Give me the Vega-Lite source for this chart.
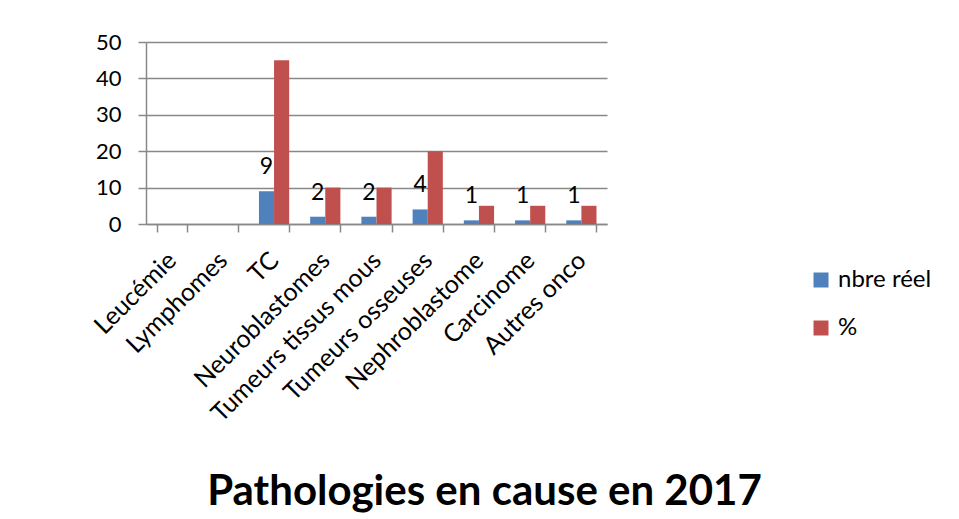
{
  "$schema": "https://vega.github.io/schema/vega-lite/v6.json",
  "width": 461,
  "height": 182,
  "autosize": "none",
  "padding": {"left": 146, "top": 42, "right": 352, "bottom": 295},
  "background": "white",
  "config": {"font": "Lato", "view": {"stroke": null}},
  "title": {"text": "Pathologies en cause en 2017", "orient": "bottom", "anchor": "middle", "fontSize": 42, "fontWeight": "bold", "color": "#000000", "dx": 108, "offset": 46},
  "data": {"values": [
    {"cat": "Leucémie", "serie": "nbre réel", "value": 0},
    {"cat": "Leucémie", "serie": "%", "value": 0},
    {"cat": "Lymphomes", "serie": "nbre réel", "value": 0},
    {"cat": "Lymphomes", "serie": "%", "value": 0},
    {"cat": "TC", "serie": "nbre réel", "value": 9},
    {"cat": "TC", "serie": "%", "value": 45},
    {"cat": "Neuroblastomes", "serie": "nbre réel", "value": 2},
    {"cat": "Neuroblastomes", "serie": "%", "value": 10},
    {"cat": "Tumeurs tissus mous", "serie": "nbre réel", "value": 2},
    {"cat": "Tumeurs tissus mous", "serie": "%", "value": 10},
    {"cat": "Tumeurs osseuses", "serie": "nbre réel", "value": 4},
    {"cat": "Tumeurs osseuses", "serie": "%", "value": 20},
    {"cat": "Nephroblastome", "serie": "nbre réel", "value": 1},
    {"cat": "Nephroblastome", "serie": "%", "value": 5},
    {"cat": "Carcinome", "serie": "nbre réel", "value": 1},
    {"cat": "Carcinome", "serie": "%", "value": 5},
    {"cat": "Autres onco", "serie": "nbre réel", "value": 1},
    {"cat": "Autres onco", "serie": "%", "value": 5}
  ]},
  "encoding": {
    "x": {
      "field": "cat", "type": "nominal",
      "sort": ["Leucémie", "Lymphomes", "TC", "Neuroblastomes", "Tumeurs tissus mous", "Tumeurs osseuses", "Nephroblastome", "Carcinome", "Autres onco"],
      "scale": {"paddingInner": 0.41, "paddingOuter": 0.205},
      "axis": {"title": null, "labelAngle": -45, "labelAlign": "right", "labelBaseline": "middle", "labelFontSize": 25, "labelColor": "#000000", "labelPadding": 24, "labelLimit": 400, "domainColor": "#888888", "domainWidth": 1.5, "tickColor": "#888888", "tickWidth": 1.5, "tickSize": 8, "tickBand": "extent", "grid": false}
    },
    "xOffset": {"field": "serie", "type": "nominal", "scale": {"domain": ["nbre réel", "%"]}},
    "y": {
      "field": "value", "type": "quantitative",
      "scale": {"domain": [0, 50], "nice": false},
      "axis": {"title": null, "values": [0, 10, 20, 30, 40, 50], "labelFontSize": 22, "labelColor": "#000000", "labelPadding": 17, "domainColor": "#888888", "domainWidth": 1.5, "tickColor": "#888888", "tickWidth": 1.5, "tickSize": 8, "gridColor": "#888888", "gridWidth": 1.5}
    }
  },
  "layer": [
    {
      "mark": {"type": "bar"},
      "encoding": {
        "color": {"field": "serie", "type": "nominal", "scale": {"domain": ["nbre réel", "%"], "range": ["#4F81BD", "#C0504D"]},
          "legend": {"title": null, "orient": "none", "legendX": 663, "legendY": 226, "symbolType": "square", "symbolSize": 225, "symbolStrokeWidth": 0, "labelFontSize": 24, "labelColor": "#000000", "labelOffset": 5, "rowPadding": 24}}
      }
    },
    {
      "transform": [{"filter": "datum.serie == 'nbre réel' && datum.value > 0"}],
      "mark": {"type": "text", "baseline": "alphabetic", "dy": -17, "fontSize": 23, "color": "#000000"},
      "encoding": {"text": {"field": "value", "type": "quantitative"}}
    }
  ]
}
